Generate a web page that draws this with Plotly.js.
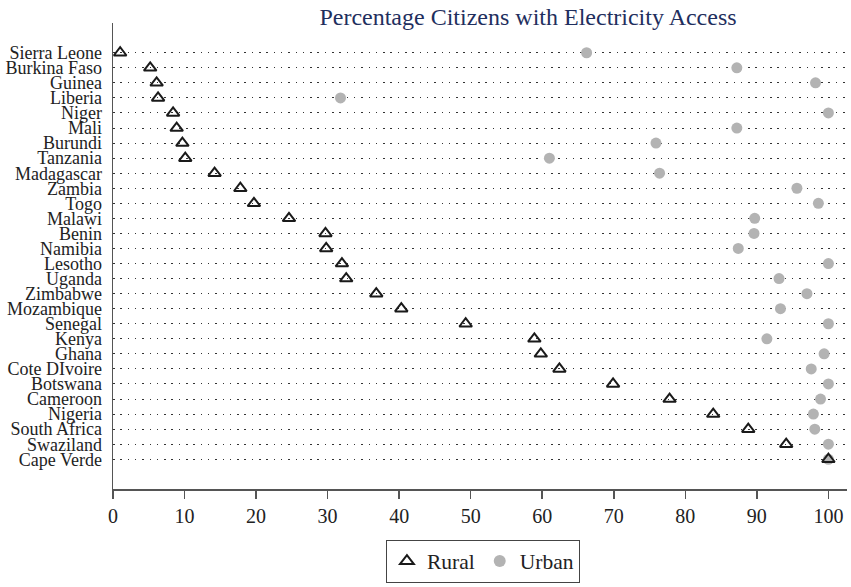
<!DOCTYPE html>
<html>
<head>
<meta charset="utf-8">
<script src="https://cdn.plot.ly/plotly-3.0.1.min.js"></script>
<style>html,body{margin:0;padding:0;background:#fff;}#chart{width:851px;height:587px;}</style>
</head>
<body>
<div id="chart"></div>
<script>
const countries = ["Sierra Leone","Burkina Faso","Guinea","Liberia","Niger","Mali","Burundi","Tanzania","Madagascar","Zambia","Togo","Malawi","Benin","Namibia","Lesotho","Uganda","Zimbabwe","Mozambique","Senegal","Kenya","Ghana","Cote DIvoire","Botswana","Cameroon","Nigeria","South Africa","Swaziland","Cape Verde"];
const rural = [1.0,5.2,6.1,6.3,8.4,8.9,9.7,10.1,14.2,17.8,19.7,24.6,29.7,29.8,32.0,32.6,36.8,40.3,49.3,58.9,59.8,62.4,69.9,77.8,83.9,88.8,94.1,100];
const urban = [66.2,87.2,98.2,31.8,100,87.2,75.9,61.0,76.4,95.6,98.6,89.7,89.6,87.4,100,93.1,97.0,93.3,100,91.4,99.4,97.6,100,98.9,97.9,98.1,100,100];
const xTicks = [0,10,20,30,40,50,60,70,80,90,100];

const serif = "Liberation Serif, Times New Roman, serif";
const data = [
  {type:"scatter", mode:"markers", name:"Urban", x:urban, y:countries,
   marker:{symbol:"circle", size:11, color:"#b3b3b3", line:{width:0}}},
  {type:"scatter", mode:"markers", name:"Rural", x:rural, y:countries,
   marker:{symbol:"triangle-up-open", size:11, color:"#1a1a1a", line:{width:2, color:"#1a1a1a"}}}
];
const layout = {
  width:851, height:587,
  margin:{l:113, r:4, t:23, b:94},
  paper_bgcolor:"#fff", plot_bgcolor:"#fff",
  font:{family:serif, size:18, color:"#222"},
  title:{text:"Percentage Citizens with Electricity Access", font:{family:serif, size:24, color:"#1f2f5e"},
         x:528/851, xanchor:"center", y:1-17/587, yanchor:"middle"},
  xaxis:{range:[0,102.6], tickvals:xTicks, ticktext:xTicks.map(String), showgrid:false, zeroline:false,
         showline:true, linecolor:"#555", linewidth:1.5, ticks:"outside", ticklen:8, tickwidth:1.5, tickcolor:"#555",
         tickfont:{family:serif, size:20, color:"#222"}},
  yaxis:{type:"category", categoryorder:"array", categoryarray:countries, range:[28.975,-1.975],
         tickmode:"array", tickvals:countries, ticktext:countries,
         showgrid:true, gridcolor:"#333", gridwidth:1, griddash:"1.5px,5.8px", zeroline:false,
         showline:true, linecolor:"#555", linewidth:1.5, ticks:"", ticklabelstandoff:6,
         tickfont:{family:serif, size:18, color:"#222"}},
  showlegend:true,
  legend:{orientation:"h", x:0.504, xanchor:"center", y:-0.1085, yanchor:"top", traceorder:"reversed",
          bordercolor:"#444", borderwidth:1, font:{family:serif, size:21.5, color:"#222"}, itemsizing:"constant"}
};
Plotly.newPlot("chart", data, layout, {displayModeBar:false, staticPlot:true});
</script>
</body>
</html>
